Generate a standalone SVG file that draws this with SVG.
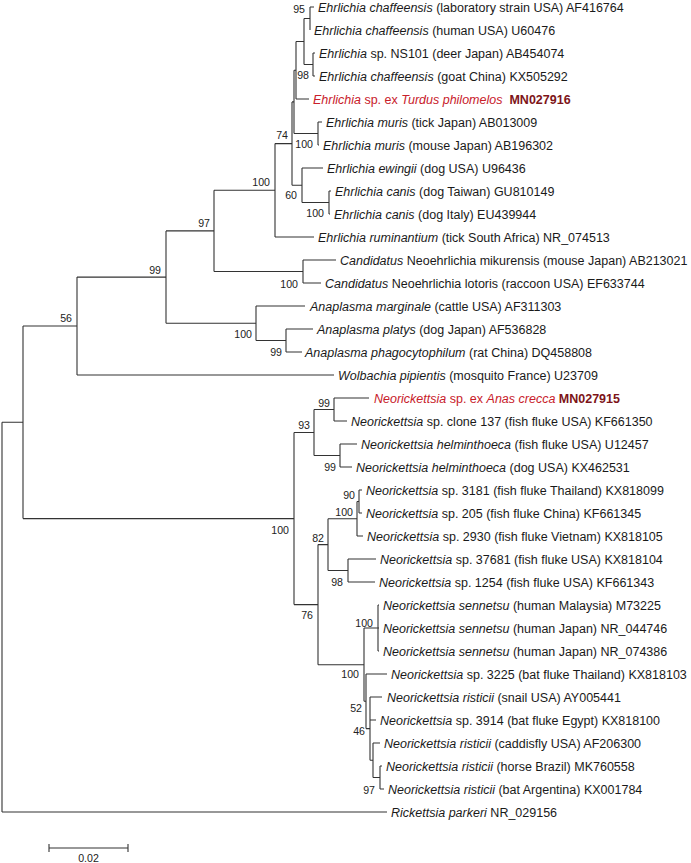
<svg xmlns="http://www.w3.org/2000/svg" width="691" height="863" viewBox="0 0 691 863">
<style>
.t{font-family:"Liberation Sans",Arial,sans-serif;font-size:12.5px;fill:#1a1a1a}
.i{font-style:italic}
.red{fill:#c8202a}
.acc{fill:#7d1418;font-weight:bold;font-style:normal}
.b{font-family:"Liberation Sans",Arial,sans-serif;font-size:10.6px;fill:#222;text-anchor:end}
.e{fill:none;stroke:#333;stroke-width:1.1}
</style>
<rect width="691" height="863" fill="#fff"/>
<g id="connectors" class="e">
<path d="M2 422.3V812M2 422.3H23M2 812H387"/>
<path d="M23 326V518.6M23 326H77M23 518.6H294"/>
<path d="M77 277.1V375M77 277.1H166M77 375H334"/>
<path d="M166 230.9V323.3M166 230.9H214M166 323.3H256"/>
<path d="M214 190.3V271.5M214 190.3H275M214 271.5H303"/>
<path d="M275 143.6V237M275 143.6H292M275 237H314"/>
<path d="M292 101.9V185.3M292 101.9H294M292 185.3H302"/>
<path d="M294 70.3V133.5M294 70.3H296M294 133.5H318"/>
<path d="M296 41.5V99M296 41.5H304M296 99H309"/>
<path d="M304 18.5V64.5M304 18.5H310M304 64.5H313"/>
<path d="M310 7V30M310 7H314"/>
<path d="M313 53V76M313 53H315M313 76H315"/>
<path d="M318 122V145M318 122H322M318 145H319"/>
<path d="M302 168V202.5M302 168H323M302 202.5H329"/>
<path d="M329 191V214M329 191H331M329 214H330"/>
<path d="M303 260V283M303 260H336M303 283H321"/>
<path d="M256 306V340.5M256 306H305M256 340.5H286"/>
<path d="M286 329V352M286 329H313M286 352H302"/>
<path d="M294 432.5V604.6M294 432.5H314M294 604.6H318"/>
<path d="M314 409.5V455.5M314 409.5H334M314 455.5H340"/>
<path d="M334 398V421M334 398H369M334 421H347"/>
<path d="M340 444V467M340 444H357M340 467H352"/>
<path d="M318 544.6V664.7M318 544.6H328M318 664.7H364"/>
<path d="M328 518.8V570.5M328 518.8H357M328 570.5H348"/>
<path d="M357 501.5V536M357 501.5H359M357 536H363"/>
<path d="M359 490V513M359 490H362M359 513H362"/>
<path d="M348 559V582M348 559H376M348 582H375"/>
<path d="M364 628V701.3M364 628H378M364 701.3H366"/>
<path d="M378 605V651M378 605H379M378 628H379M378 651H379"/>
<path d="M366 674V728.6M366 674H387M366 728.6H370"/>
<path d="M370 697V760.3M370 697H382M370 720H376M370 760.3H373"/>
<path d="M373 743V777.5M373 743H380M373 777.5H380"/>
<path d="M380 766V789M380 766H382M380 789H384"/>
</g>
<g id="leaves" class="t">
<g id="leaf1"><text x="318" y="11.5"><tspan class="i">Ehrlichia chaffeensis</tspan> (laboratory strain USA) AF416764</text></g>
<g id="leaf2"><text x="314" y="34.5"><tspan class="i">Ehrlichia chaffeensis</tspan> (human USA) U60476</text></g>
<g id="leaf3"><text x="319" y="57.5"><tspan class="i">Ehrlichia</tspan> sp. NS101 (deer Japan) AB454074</text></g>
<g id="leaf4"><text x="319" y="80.5"><tspan class="i">Ehrlichia chaffeensis</tspan> (goat China) KX505292</text></g>
<g id="leaf5"><text x="313" y="103.5" class="red"><tspan class="i">Ehrlichia</tspan> sp. ex <tspan class="i">Turdus philomelos</tspan><tspan class="acc" dx="7">MN027916</tspan></text></g>
<g id="leaf6"><text x="326" y="126.5"><tspan class="i">Ehrlichia muris</tspan> (tick Japan) AB013009</text></g>
<g id="leaf7"><text x="323" y="149.5"><tspan class="i">Ehrlichia muris</tspan> (mouse Japan) AB196302</text></g>
<g id="leaf8"><text x="327" y="172.5"><tspan class="i">Ehrlichia ewingii</tspan> (dog USA) U96436</text></g>
<g id="leaf9"><text x="335" y="195.5"><tspan class="i">Ehrlichia canis</tspan> (dog Taiwan) GU810149</text></g>
<g id="leaf10"><text x="334" y="218.5"><tspan class="i">Ehrlichia canis</tspan> (dog Italy) EU439944</text></g>
<g id="leaf11"><text x="318" y="241.5"><tspan class="i">Ehrlichia ruminantium</tspan> (tick South Africa) NR_074513</text></g>
<g id="leaf12"><text x="340" y="264.5"><tspan class="i">Candidatus</tspan> Neoehrlichia mikurensis (mouse Japan) AB213021</text></g>
<g id="leaf13"><text x="325" y="287.5"><tspan class="i">Candidatus</tspan> Neoehrlichia lotoris (raccoon USA) EF633744</text></g>
<g id="leaf14"><text x="310" y="310.5"><tspan class="i">Anaplasma marginale</tspan> (cattle USA) AF311303</text></g>
<g id="leaf15"><text x="317" y="333.5"><tspan class="i">Anaplasma platys</tspan> (dog Japan) AF536828</text></g>
<g id="leaf16"><text x="305" y="356.5"><tspan class="i">Anaplasma phagocytophilum</tspan> (rat China) DQ458808</text></g>
<g id="leaf17"><text x="338" y="379.5"><tspan class="i">Wolbachia pipientis</tspan> (mosquito France) U23709</text></g>
<g id="leaf18"><text x="374" y="402.5" class="red"><tspan class="i">Neorickettsia</tspan> sp. ex <tspan class="i">Anas crecca</tspan> <tspan class="acc">MN027915</tspan></text></g>
<g id="leaf19"><text x="351" y="425.5"><tspan class="i">Neorickettsia</tspan> sp. clone 137 (fish fluke USA) KF661350</text></g>
<g id="leaf20"><text x="361" y="448.5"><tspan class="i">Neorickettsia helminthoeca</tspan> (fish fluke USA) U12457</text></g>
<g id="leaf21"><text x="356" y="471.5"><tspan class="i">Neorickettsia helminthoeca</tspan> (dog USA) KX462531</text></g>
<g id="leaf22"><text x="366" y="494.5"><tspan class="i">Neorickettsia</tspan> sp. 3181 (fish fluke Thailand) KX818099</text></g>
<g id="leaf23"><text x="366" y="517.5"><tspan class="i">Neorickettsia</tspan> sp. 205 (fish fluke China) KF661345</text></g>
<g id="leaf24"><text x="367" y="540.5"><tspan class="i">Neorickettsia</tspan> sp. 2930 (fish fluke Vietnam) KX818105</text></g>
<g id="leaf25"><text x="380" y="563.5"><tspan class="i">Neorickettsia</tspan> sp. 37681 (fish fluke USA) KX818104</text></g>
<g id="leaf26"><text x="379" y="586.5"><tspan class="i">Neorickettsia</tspan> sp. 1254 (fish fluke USA) KF661343</text></g>
<g id="leaf27"><text x="383" y="609.5"><tspan class="i">Neorickettsia sennetsu</tspan> (human Malaysia) M73225</text></g>
<g id="leaf28"><text x="383" y="632.5"><tspan class="i">Neorickettsia sennetsu</tspan> (human Japan) NR_044746</text></g>
<g id="leaf29"><text x="383" y="655.5"><tspan class="i">Neorickettsia sennetsu</tspan> (human Japan) NR_074386</text></g>
<g id="leaf30"><text x="391" y="678.5"><tspan class="i">Neorickettsia</tspan> sp. 3225 (bat fluke Thailand) KX818103</text></g>
<g id="leaf31"><text x="387" y="701.5"><tspan class="i">Neorickettsia risticii</tspan> (snail USA) AY005441</text></g>
<g id="leaf32"><text x="380" y="724.5"><tspan class="i">Neorickettsia</tspan> sp. 3914 (bat fluke Egypt) KX818100</text></g>
<g id="leaf33"><text x="384" y="747.5"><tspan class="i">Neorickettsia risticii</tspan> (caddisfly USA) AF206300</text></g>
<g id="leaf34"><text x="386" y="770.5"><tspan class="i">Neorickettsia risticii</tspan> (horse Brazil) MK760558</text></g>
<g id="leaf35"><text x="388" y="793.5"><tspan class="i">Neorickettsia risticii</tspan> (bat Argentina) KX001784</text></g>
<g id="leaf36"><text x="391" y="816.5"><tspan class="i">Rickettsia parkeri</tspan> NR_029156</text></g>
</g>
<g id="bootstrap" class="b">
<g id="bs95"><text x="305" y="13">95</text></g>
<g id="bs98a"><text x="309" y="79">98</text></g>
<g id="bs74"><text x="288" y="139">74</text></g>
<g id="bs100muris"><text x="313" y="148">100</text></g>
<g id="bs60"><text x="297" y="199">60</text></g>
<g id="bs100canis"><text x="324" y="217">100</text></g>
<g id="bs100ehr"><text x="270" y="186">100</text></g>
<g id="bs97"><text x="210" y="227">97</text></g>
<g id="bs100cand"><text x="298" y="288">100</text></g>
<g id="bs99a"><text x="161" y="274">99</text></g>
<g id="bs100ana"><text x="252" y="338">100</text></g>
<g id="bs99ana"><text x="282" y="356">99</text></g>
<g id="bs56"><text x="72" y="322">56</text></g>
<g id="bs99anas"><text x="330" y="407">99</text></g>
<g id="bs93"><text x="310" y="429">93</text></g>
<g id="bs99helm"><text x="336" y="471">99</text></g>
<g id="bs100neo"><text x="289" y="534">100</text></g>
<g id="bs90"><text x="355" y="499">90</text></g>
<g id="bs100b"><text x="353" y="516">100</text></g>
<g id="bs82"><text x="324" y="542">82</text></g>
<g id="bs98b"><text x="343" y="586">98</text></g>
<g id="bs76"><text x="313" y="619">76</text></g>
<g id="bs100sen"><text x="373" y="627">100</text></g>
<g id="bs100p"><text x="359" y="678">100</text></g>
<g id="bs52"><text x="362" y="712">52</text></g>
<g id="bs46"><text x="365" y="735">46</text></g>
<g id="bs97r"><text x="375" y="794">97</text></g>
</g>
<g id="scalebar">
<path class="e" d="M49 848H128M49 844V852M128 844V852"/>
<text x="88.5" y="862" class="b" style="text-anchor:middle">0.02</text>
</g>
</svg>
